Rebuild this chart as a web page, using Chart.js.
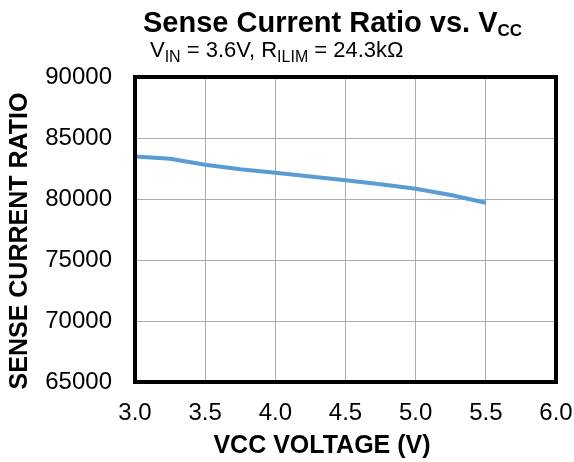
<!DOCTYPE html>
<html>
<head>
<meta charset="utf-8">
<script src="https://cdn.jsdelivr.net/npm/chart.js@4"></script>
<style>
    body { margin: 0; background: #ffffff; }
    #wrap { width: 574px; height: 462px; }
</style>
</head>
<body>
<div id="wrap"><canvas id="ratioChart" width="574" height="462"></canvas></div>
<script>
// Sense current ratio vs VCC (VIN = 3.6V, RILIM = 24.3k)
const vccVolts = [3.0, 3.25, 3.5, 3.75, 4.0, 4.25, 4.5, 4.75, 5.0, 5.25, 5.5];
const senseRatio = [83480, 83290, 82810, 82440, 82150, 81840, 81540, 81210, 80840, 80330, 79690];
const xTicks = [3.0, 3.5, 4.0, 4.5, 5.0, 5.5, 6.0];
const yTicks = [65000, 70000, 75000, 80000, 85000, 90000];

const FONT = '"Liberation Sans", Arial, sans-serif';

// draw titles + black frame
const frameAndTitles = {
    id: 'frameAndTitles',
    afterDraw(chart) {
        const ctx = chart.ctx;
        const area = chart.chartArea;
        ctx.save();

        // frame round the plot
        ctx.strokeStyle = '#000000';
        ctx.lineWidth = 4;
        ctx.strokeRect(area.left, area.top, area.right - area.left, area.bottom - area.top);

        ctx.fillStyle = '#000000';
        ctx.textBaseline = 'alphabetic';
        ctx.textAlign = 'left';

        // main title with subscript
        let x = 143;
        ctx.font = 'bold 29px ' + FONT;
        const t1 = 'Sense Current Ratio vs. V';
        ctx.fillText(t1, x, 32);
        x += ctx.measureText(t1).width;
        ctx.font = 'bold 17px ' + FONT;
        ctx.fillText('CC', x, 36);

        // subtitle
        const parts = [
            ['V', false], ['IN', true], [' = 3.6V, R', false], ['ILIM', true], [' = 24.3k\u03A9', false]
        ];
        x = 150;
        parts.forEach(p => {
            ctx.font = (p[1] ? '16px ' : '22px ') + FONT;
            ctx.fillText(p[0], x, p[1] ? 62 : 57);
            x += ctx.measureText(p[0]).width;
        });

        // axis titles
        ctx.font = 'bold 25px ' + FONT;
        ctx.textAlign = 'center';
        ctx.fillText('VCC VOLTAGE (V)', 322, 453);

        ctx.translate(27, 241);
        ctx.rotate(-Math.PI / 2);
        ctx.fillText('SENSE CURRENT RATIO', 0, 0);
        ctx.restore();
    }
};

const points = vccVolts.map((v, i) => ({ x: v, y: senseRatio[i] }));

new Chart(document.getElementById('ratioChart'), {
    type: 'line',
    data: {
        datasets: [{
            data: points,
            borderColor: '#5b9bd5',
            borderWidth: 4,
            pointRadius: 0,
            tension: 0,
            fill: false
        }]
    },
    options: {
        responsive: false,
        animation: false,
        layout: { padding: { top: 77, right: 18, left: 0, bottom: 0 } },
        plugins: {
            legend: { display: false },
            tooltip: { enabled: false }
        },
        scales: {
            x: {
                type: 'linear',
                min: 3,
                max: 6,
                afterFit: s => {
                    s.height = 80;
                    s.paddingLeft = 0;
                    s.paddingRight = 0;
                },
                afterBuildTicks: s => { s.ticks = xTicks.map(v => ({ value: v })); },
                grid: { color: '#acacac', lineWidth: 1, drawTicks: false },
                border: { display: false },
                ticks: {
                    color: '#000000',
                    padding: 17,
                    font: { family: FONT, size: 24 },
                    callback: v => v.toFixed(1)
                }
            },
            y: {
                min: 65000,
                max: 90000,
                afterFit: s => {
                    s.width = 135;
                    s.paddingTop = 0;
                    s.paddingBottom = 0;
                },
                afterBuildTicks: s => { s.ticks = yTicks.map(v => ({ value: v })); },
                grid: { color: '#acacac', lineWidth: 1, drawTicks: false },
                border: { display: false },
                ticks: {
                    color: '#000000',
                    padding: 23,
                    font: { family: FONT, size: 24 },
                    callback: v => String(v)
                }
            }
        }
    },
    plugins: [frameAndTitles]
});
</script>
</body>
</html>
